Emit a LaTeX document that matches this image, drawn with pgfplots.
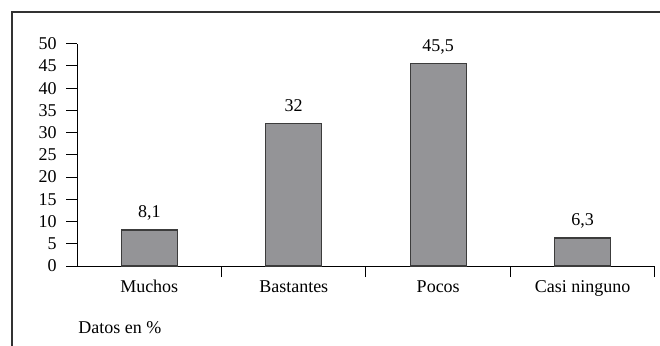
\documentclass[border=0pt]{standalone}
\usepackage{fontspec}
\setmainfont{Liberation Serif}
\usepackage{pgfplots}
\pgfplotsset{compat=1.18}

\definecolor{barfill}{RGB}{148,148,151}
\definecolor{baredge}{RGB}{60,60,60}
\definecolor{framecol}{RGB}{50,50,50}

\begin{document}
\fontsize{9}{11}\selectfont
\begin{tikzpicture}
% page area and the open frame around the chart
\useasboundingbox (0,0) rectangle (330pt,172.5pt);
\draw[line width=0.9pt, framecol] (6pt,-5pt) -- (6pt,166.5pt) -- (340pt,166.5pt);
\begin{axis}[
  at={(38.5pt,39.5pt)}, anchor=south west,
  scale only axis, width=289pt, height=111.15pt,
  xmin=-0.5, xmax=3.5, ymin=0, ymax=50,
  axis x line=bottom, axis y line=left,
  axis line style={-, line width=0.5pt, black},
  ytick={0,5,...,50},
  tick align=outside, major tick length=5.5pt,
  tick style={line width=0.5pt, black},
  /pgf/number format/assume math mode=true,
  yticklabel style={xshift=-1.5pt},
  xtick={0.5,1.5,2.5,3.5}, xticklabels={},
  extra x ticks={0,1,2,3},
  extra x tick labels={Muchos,Bastantes,Pocos,Casi ninguno},
  extra x tick style={major tick length=0pt,
    xticklabel style={anchor=base, yshift=-13pt, inner sep=0pt}},
  clip=false,
]
\addplot[ybar, bar width=28pt, fill=barfill, draw=baredge, line width=0.6pt,
  nodes near coords, point meta=explicit symbolic,
  every node near coord/.append style={anchor=base, yshift=6pt, inner sep=0pt, text=black}]
  coordinates {(0,8.1) [8{,}1] (1,32) [32] (2,45.5) [45{,}5] (3,6.3) [6{,}3]};
\end{axis}
\node[anchor=base west, inner sep=0pt] at (39pt,6pt) {Datos en \%};
\end{tikzpicture}
\end{document}
